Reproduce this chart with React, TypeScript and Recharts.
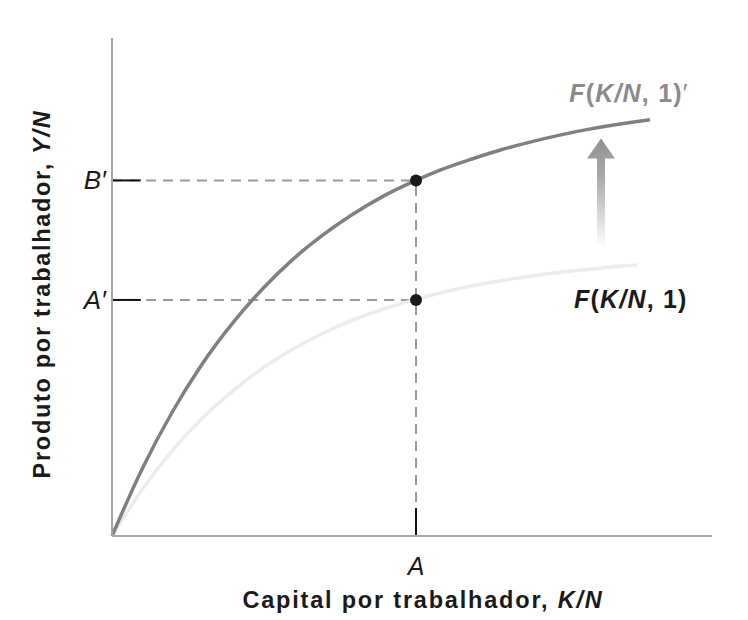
import React from 'react';
import {
  LineChart, Line, XAxis, YAxis, ReferenceLine, ReferenceDot, Label
} from 'recharts';

// capital per worker (x) and output per worker (y)
const upperK = [0, 5, 10, 15, 20, 25, 30, 35, 40, 45, 50.67, 55, 60, 65, 70, 75, 80, 85, 89.67];
const upperY = [0, 13.4, 24.8, 34.5, 42.6, 49.5, 55.4, 60.3, 64.5, 68.1, 71.4, 73.6, 75.7, 77.6, 79.2, 80.6, 81.8, 82.8, 83.6];
const lowerK = [0, 5, 10, 15, 20, 25, 30, 35, 40, 45, 50.67, 55, 60, 65, 70, 75, 80, 85, 87.5];
const lowerY = [0, 9.3, 17.1, 23.6, 29.0, 33.6, 37.4, 40.6, 43.3, 45.5, 47.5, 48.9, 50.2, 51.3, 52.2, 53.0, 53.6, 54.2, 54.4];

const pointA = 50.67;
const levelA = 47.4;
const levelB = 71.4;
const xTicks = [pointA];
const xTickLabels = ['A'];
const yTicks = [levelA, levelB];
const yTickLabels = ['A′', 'B′'];

// arrow from the old curve towards the new one
const arrowX = 81.5;
const arrowFrom = 58;
const arrowTo = 79.8;

const upperData = upperK.map((k, i) => ({ k, y: upperY[i] }));
const lowerData = lowerK.map((k, i) => ({ k, y: lowerY[i] }));

const FONT = '"Liberation Sans", Arial, Helvetica, sans-serif';

const FLabel = ({ x, y, fill, prime }: { x: number; y: number; fill: string; prime?: boolean }) => (
  <text x={x} y={y} fill={fill} fontFamily={FONT} fontWeight="bold" fontSize={25} letterSpacing={1.2} dominantBaseline="central">
    <tspan fontStyle="italic">F</tspan>
    <tspan>(</tspan>
    <tspan fontStyle="italic">K/N</tspan>
    <tspan>, 1)</tspan>
    {prime && <tspan fontWeight="normal">′</tspan>}
  </text>
);

const ArrowShape = (props: any) => {
  const { x1, y1, y2 } = props;
  const cx = x1;
  const top = Math.min(y1, y2);
  const bottom = Math.max(y1, y2);
  const headBase = top + 20;
  const d = `M${cx - 4},${bottom} L${cx - 4},${headBase} L${cx - 14},${headBase} L${cx},${top} L${cx + 14},${headBase} L${cx + 4},${headBase} L${cx + 4},${bottom} Z`;
  return <path d={d} fill="url(#arrowGrad)" />;
};

export default function App() {
  return (
    <div style={{ position: 'absolute', left: 0, top: 0, background: '#fff' }}>
      <LineChart width={748} height={620} data={upperData} margin={{ top: 38, right: 36, bottom: 83, left: 111 }}>
        <defs>
          <linearGradient id="arrowGrad" x1="0" y1="0" x2="0" y2="1">
            <stop offset="0%" stopColor="#919191" />
            <stop offset="35%" stopColor="#aaaaaa" />
            <stop offset="100%" stopColor="#ffffff" />
          </linearGradient>
        </defs>
        <XAxis
          type="number"
          dataKey="k"
          domain={[0, 100]}
          ticks={xTicks}
          height={1}
          tickLine={false}
          tickSize={0}
          stroke="#a6a6a6"
          strokeWidth={2}
          tick={(p: any) => (
            <text x={p.x} y={p.y + 28} textAnchor="middle" dominantBaseline="central"
              fontFamily={FONT} fontStyle="italic" fontSize={25} fill="#1a1a1a">
              {xTickLabels[xTicks.indexOf(p.payload.value)]}
            </text>
          )}
        >
          <Label
            content={(p: any) => {
              const vb = p.viewBox;
              return (
                <text x={vb.x + vb.width / 2 + 11} y={vb.y + 64} textAnchor="middle" dominantBaseline="central"
                  fontFamily={FONT} fontWeight="bold" fontSize={23.5} letterSpacing={1.8} fill="#1a1a1a">
                  Capital por trabalhador, <tspan fontStyle="italic">K/N</tspan>
                </text>
              );
            }}
          />
        </XAxis>
        <YAxis
          type="number"
          domain={[0, 100]}
          ticks={yTicks}
          width={1}
          tickLine={false}
          tickSize={0}
          stroke="#a6a6a6"
          strokeWidth={2}
          tick={(p: any) => (
            <text x={p.x - 4} y={p.y} textAnchor="end" dominantBaseline="central"
              fontFamily={FONT} fontStyle="italic" fontSize={26} fill="#1a1a1a">
              {yTickLabels[yTicks.indexOf(p.payload.value)]}
            </text>
          )}
        >
          <Label
            content={(p: any) => {
              const vb = p.viewBox;
              const cx = 42;
              const cy = vb.y + vb.height / 2 + 7;
              return (
                <text x={cx} y={cy} textAnchor="middle" dominantBaseline="central"
                  transform={`rotate(-90 ${cx} ${cy})`}
                  fontFamily={FONT} fontWeight="bold" fontSize={23.5} letterSpacing={1.7} fill="#1a1a1a">
                  Produto por trabalhador, <tspan fontStyle="italic">Y/N</tspan>
                </text>
              );
            }}
          />
        </YAxis>

        {/* dashed guides */}
        <ReferenceLine segment={[{ x: 0, y: levelB }, { x: pointA, y: levelB }]} stroke="#9a9a9a" strokeWidth={2} strokeDasharray="10 7" />
        <ReferenceLine segment={[{ x: 0, y: levelA }, { x: pointA, y: levelA }]} stroke="#9a9a9a" strokeWidth={2} strokeDasharray="10 7" />
        <ReferenceLine segment={[{ x: pointA, y: 0 }, { x: pointA, y: levelB }]} stroke="#9a9a9a" strokeWidth={2} strokeDasharray="10 7" />
        {/* black tick marks */}
        <ReferenceLine segment={[{ x: 0, y: levelB }, { x: 4.8, y: levelB }]} stroke="#111" strokeWidth={2} />
        <ReferenceLine segment={[{ x: 0, y: levelA }, { x: 4.8, y: levelA }]} stroke="#111" strokeWidth={2} />
        <ReferenceLine segment={[{ x: pointA, y: 0 }, { x: pointA, y: 5.6 }]} stroke="#111" strokeWidth={2} />

        <Line data={lowerData} dataKey="y" type="monotone" stroke="#ececec" strokeWidth={3.5} dot={false} activeDot={false} isAnimationActive={false} />
        <Line data={upperData} dataKey="y" type="monotone" stroke="#808080" strokeWidth={3.5} dot={false} activeDot={false} isAnimationActive={false} />

        <ReferenceLine segment={[{ x: arrowX, y: arrowFrom }, { x: arrowX, y: arrowTo }]} shape={ArrowShape} />

        <ReferenceDot x={pointA} y={levelB} r={6} fill="#1a1a1a" stroke="none" />
        <ReferenceDot x={pointA} y={levelA} r={6} fill="#1a1a1a" stroke="none" />

        <ReferenceDot x={76.2} y={89} r={0} stroke="none" label={(p: any) => <FLabel x={p.viewBox.x} y={p.viewBox.y} fill="#8a8a8a" prime />} />
        <ReferenceDot x={77} y={47.5} r={0} stroke="none" label={(p: any) => <FLabel x={p.viewBox.x} y={p.viewBox.y} fill="#1a1a1a" />} />
      </LineChart>
    </div>
  );
}
